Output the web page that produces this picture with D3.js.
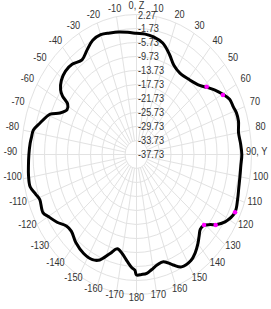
<!DOCTYPE html>
<meta charset="utf-8">
<style>
  body { margin: 0; background: #fff; }
  text { font-family: "Liberation Sans", Arial, sans-serif; font-size: 10px; fill: #333; }
</style>
<body>
<script src="https://cdn.jsdelivr.net/npm/d3@7"></script>
<script>

var width = 271, height = 309;
var cx = 136.5, cy = 154.5, rx = 115, ry = 140;

// pattern, angle in degrees (0 = Z, 90 = Y) and level in dB
var angles = [-179, -177, -174, -170, -166, -162, -157, -153, -147, -140, -134, -130, -125, -120, -117, -111, -108, -104, -99, -95, -90, -85, -82, -79, -75, -69, -66, -62, -59, -57, -55, -51, -46, -41, -35, -30, -25, -20, -15, -10, -5,
  0, 5, 10, 16, 22, 27, 33, 41, 48, 52, 56, 60, 64, 68, 71, 75, 80, 85, 90, 95, 100, 105, 110, 116, 122, 126, 128, 131, 134, 137, 140, 144, 148, 154, 158, 163, 167, 171, 174, 177, 180];
var values = [-4.7, -5.4, -7.0, -9.0, -10.0, -8.0, -5.0, -4.0, -4.0, -4.9, -6.2, -5.9, -4.0, -2.3, -1.2, -1.7, -0.9, 0.4, 0.3, 0.0, -0.3, -0.6, -0.9, -1.2, -3.0, -5.6, -8.6, -10.4, -9.8, -7.0, -5.5, -4.1, -3.4, -3.6, -4.7, -3.3, -1.7, -1.3, -1.8, -2.2, -2.7,
  -3.1, -3.2, -3.6, -4.6, -7.0, -9.1, -10.0, -9.5, -8.2, -6.6, -4.8, -3.2, -1.7, -1.4, -1.0, -1.0, -1.7, -1.4, -1.1, -1.3, -1.2, -0.9, -0.3, 0.3, -1.4, -3.6, -5.2, -6.8, -6.9, -5.8, -4.5, -3.0, -2.0, -2.0, -3.7, -5.7, -5.4, -4.4, -3.6, -3.4, -3.3];

// highlighted points
var markAngles = [51.6, 60.5, 115.7, 126.2, 130.6];
var markValues = [-6.6, -3.2, 0.3, -3.6, -6.8];

var ringLabels = ["-37.73", "-33.73", "-29.73", "-25.73", "-21.73", "-17.73", "-13.73", "-9.73", "-5.73", "-1.73", "2.27"];
var angleLabels = ["-170", "-160", "-150", "-140", "-130", "-120", "-110", "-100", "-90", "-80", "-70", "-60", "-50", "-40", "-30", "-20", "-10",
  "0, Z", "10", "20", "30", "40", "50", "60", "70", "80", "90, Y", "100", "110", "120", "130", "140", "150", "160", "170", "180"];

var r = d3.scaleLinear().domain([-37.73, 2.27]).range([0, 1]);
var rad = d3.scaleLinear().domain([0, 360]).range([0, 2 * Math.PI]);

function px(a, v) { return cx + rx * r(v) * Math.sin(rad(a)); }
function py(a, v) { return cy - ry * r(v) * Math.cos(rad(a)); }

var svg = d3.select("body").append("svg")
    .attr("width", width)
    .attr("height", height);

var grid = svg.append("g")
    .attr("fill", "none")
    .attr("stroke", "#e2e2e2")
    .attr("stroke-width", 1);

var ringVals = ringLabels.map(Number);

grid.selectAll("ellipse")
    .data(ringVals.slice(1))
    .enter().append("ellipse")
    .attr("cx", cx)
    .attr("cy", cy)
    .attr("rx", function(d) { return rx * r(d); })
    .attr("ry", function(d) { return ry * r(d); });

var spokes = angleLabels.map(function(d, i) { return -170 + i * 10; });

grid.selectAll("line")
    .data(spokes)
    .enter().append("line")
    .attr("x1", function(d) { return px(d, d % 90 === 0 ? ringVals[0] : ringVals[1]); })
    .attr("y1", function(d) { return py(d, d % 90 === 0 ? ringVals[0] : ringVals[1]); })
    .attr("x2", function(d) { return px(d, ringVals[ringVals.length - 1]); })
    .attr("y2", function(d) { return py(d, ringVals[ringVals.length - 1]); });

// ring labels up the Z axis
svg.append("g").selectAll("text")
    .data(ringLabels)
    .enter().append("text")
    .attr("transform", function(d, i) {
        var y = py(0, +d) + (i === ringLabels.length - 1 ? 1 : 0);
        return "translate(" + (cx + 1.5) + "," + y + ") scale(0.92,1)";
    })
    .attr("dy", "0.35em")
    .text(function(d) { return d; });

// angle labels around the edge
svg.append("g").selectAll("text")
    .data(angleLabels)
    .enter().append("text")
    .attr("text-anchor", "middle")
    .attr("dy", "0.35em")
    .attr("transform", function(d, i) {
        var a = rad(spokes[i]);
        var x = cx + 126 * Math.sin(a);
        var y = cy - 3 - 145.5 * Math.cos(a);
        if (spokes[i] === 0) y -= 1;
        var w = d.length * 5.3;
        x = Math.max(2 + w / 2, Math.min(width - 1 - w / 2, x));
        return "translate(" + x + "," + y + ") scale(0.92,1)";
    })
    .text(function(d) { return d; });

var pts = angles.map(function(a, i) { return [px(a, values[i]), py(a, values[i])]; });

svg.append("path")
    .datum(pts)
    .attr("fill", "none")
    .attr("stroke", "#000")
    .attr("stroke-width", 3)
    .attr("stroke-linejoin", "round")
    .attr("d", d3.line().curve(d3.curveCatmullRomClosed));

svg.append("g").selectAll("circle")
    .data(markAngles)
    .enter().append("circle")
    .attr("cx", function(d, i) { return px(d, markValues[i]); })
    .attr("cy", function(d, i) { return py(d, markValues[i]); })
    .attr("r", 2.3)
    .attr("fill", "#ff00ff");

</script>
